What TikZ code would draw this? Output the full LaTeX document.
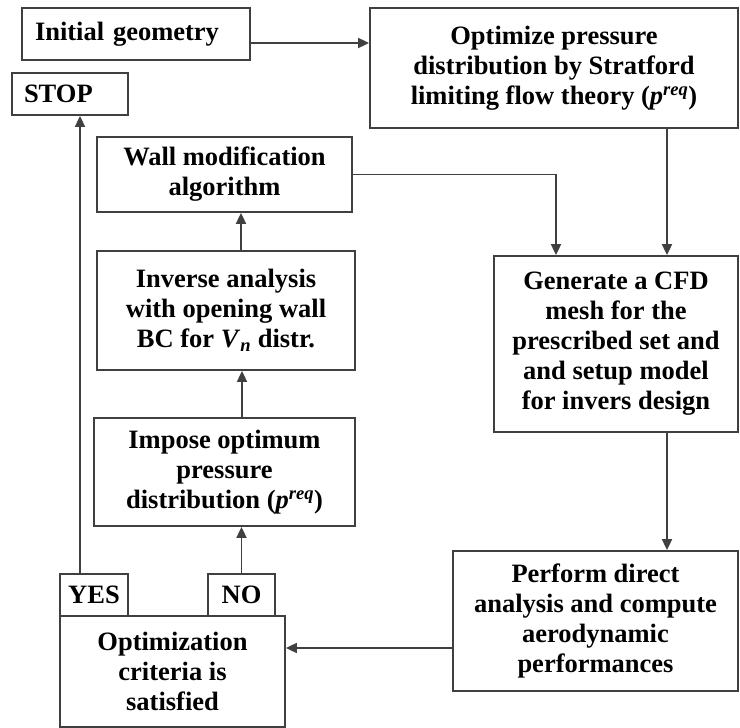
\documentclass[tikz,border=0pt]{standalone}
\usepackage{fontspec}
\setmainfont{Liberation Serif}
\usetikzlibrary{arrows.meta,calc}
\begin{document}
\begin{tikzpicture}[x=1pt,y=-1pt,
  box/.style={draw=black!75,line width=1.8pt,fill=white,inner sep=0pt,align=center,
    font=\fontsize{26.5}{30}\selectfont\bfseries},
  arr/.style={draw=black!75,line width=1.8pt,-{Triangle[length=11pt,width=10pt]}},
  ln/.style={draw=black!75,line width=1.8pt}]
\useasboundingbox (0,0) rectangle (740,728);
\node[box,minimum width=228pt,minimum height=52pt,text width=202pt,align=left] (init) at (136,34) {Initial geometry};
\node[box,minimum width=116pt,minimum height=42pt,text width=92pt,align=left] (stop) at (70,94) {STOP};
\node[box,minimum width=368pt,minimum height=120pt] (opt) at (554,68) {Optimize pressure\\distribution by Stratford\\limiting flow theory (\textit{p}\textsuperscript{\textit{req}})};
\node[box,minimum width=255pt,minimum height=75pt] (wall) at (224.5,174.5) {Wall modification\\algorithm};
\node[box,minimum width=244pt,minimum height=176pt] (gen) at (616,344) {Generate a CFD\\mesh for the\\prescribed set and\\and setup model\\for invers design};
\node[box,minimum width=258pt,minimum height=119pt] (inv) at (226,310.5) {Inverse analysis\\with opening wall\\BC for \textit{V}\textsubscript{\textit{n}} distr.};
\node[box,minimum width=261pt,minimum height=108pt] (imp) at (224.5,472) {Impose optimum\\pressure\\distribution (\textit{p}\textsuperscript{\textit{req}})};
\node[box,minimum width=285pt,minimum height=140pt] (perf) at (595.5,621) {Perform direct\\analysis and compute\\aerodynamic\\performances};
\node[box,minimum width=225pt,minimum height=111pt] (crit) at (172.5,671.5) {Optimization\\criteria is\\satisfied};
\node[box,minimum width=68pt,minimum height=42pt] (yes) at (94,595) {YES};
\node[box,minimum width=67pt,minimum height=42pt] (no) at (241.5,595) {NO};
% connectors
\draw[arr] (init.east |- 0,43) -- (opt.west |- 0,43);
\draw[arr] (wall.east) -| (gen.north -| 556,0);
\draw[arr] (opt.south -| 667,0) -- (gen.north -| 667,0);
\draw[arr] (gen.south -| 667,0) -- (perf.north -| 667,0);
\draw[arr] (perf.west |- 0,648) -- (crit.east |- 0,648);
\draw[arr] (no.north) -- (no.north |- imp.south);
\draw[arr] (imp.north -| 242,0) -- (inv.south -| 242,0);
\draw[arr] (inv.north -| 241,0) -- (wall.south -| 241,0);
\draw[arr] (yes.north -| 80,0) -- (stop.south -| 80,0);
\end{tikzpicture}
\end{document}
